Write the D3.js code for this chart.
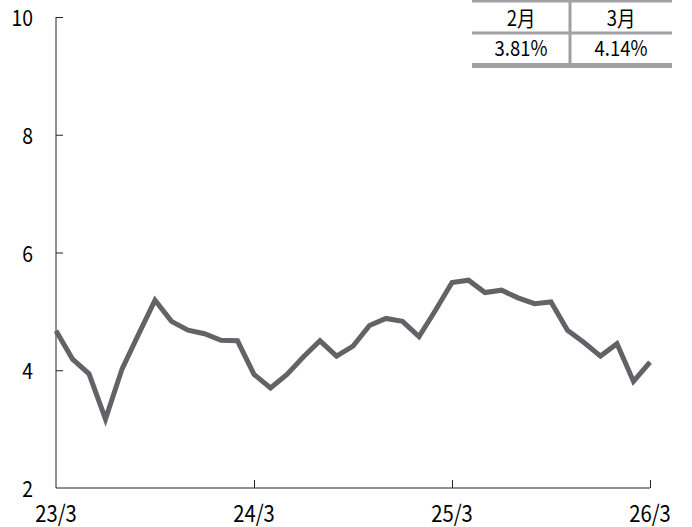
<!DOCTYPE html>
<html>
<head>
	<meta charset="utf-8">
	<title>Rate chart</title>
	<script src="https://d3js.org/d3.v7.min.js"></script>
	<style>
		body { margin: 0; background: #fff; }
		text { font-family: "Noto Sans CJK JP", "Noto Sans", sans-serif; fill: #000; }
	</style>
</head>
<body>
	<script>
		// monthly values, 23/3 .. 26/3
		const values = [4.67, 4.19, 3.94, 3.17, 4.02, 4.61, 5.19, 4.83, 4.68, 4.62, 4.51, 4.50,
			3.93, 3.70, 3.93, 4.23, 4.50, 4.24, 4.41, 4.76, 4.88, 4.83, 4.57, 5.02,
			5.49, 5.53, 5.32, 5.36, 5.23, 5.13, 5.16, 4.68, 4.47, 4.24, 4.45, 3.81, 4.14];
		const xTickLabels = ['23/3', '24/3', '25/3', '26/3'];
		const yTicks = [2, 4, 6, 8, 10];
		const tableHead = ['2月', '3月'];
		const tableVals = ['3.81%', '4.14%'];

		const W = 692, H = 527;
		const margin = { top: 17, right: 42, bottom: 39, left: 56 };
		const width = W - margin.left - margin.right;
		const height = H - margin.top - margin.bottom;
		const sx = 0.88; // narrow the glyphs a bit

		const svg = d3.select('body').append('svg')
			.attr('width', W)
			.attr('height', H);

		const g = svg.append('g')
			.attr('transform', `translate(${margin.left}, ${margin.top})`);

		const x = d3.scaleLinear().domain([0, values.length - 1]).range([0, width]);
		const y = d3.scaleLinear().domain([2, 10]).range([height, 0]);

		// y axis (ticks inward)
		const yAxis = g.append('g')
			.call(d3.axisRight(y).tickValues(yTicks).tickSize(7).tickFormat(''));
		yAxis.select('.domain').attr('d', `M0,0V${height}`).attr('stroke', '#222');
		yAxis.selectAll('.tick line').attr('stroke', '#222');
		yAxis.selectAll('.tick').filter(d => d === 2).select('line').remove();

		g.selectAll('.ylab')
			.data(yTicks)
			.enter().append('text')
			.attr('transform', d => `translate(-23, ${y(d) + 9}) scale(${sx}, 1)`)
			.attr('text-anchor', 'end')
			.style('font-size', '22px')
			.text(d => d);

		// x axis (ticks upward)
		const xAxis = g.append('g')
			.attr('transform', `translate(0, ${height})`)
			.call(d3.axisTop(x).tickValues([0, 12, 24, 36]).tickSize(8).tickFormat(''));
		xAxis.select('.domain').attr('d', `M0,0H${width}`).attr('stroke', '#222');
		xAxis.selectAll('.tick line').attr('stroke', '#222');
		xAxis.selectAll('.tick').filter(d => d === 0).select('line').remove();

		g.selectAll('.xlab')
			.data(xTickLabels)
			.enter().append('text')
			.attr('transform', (d, i) => `translate(${x(i * 12)}, ${height + 34}) scale(${sx}, 1)`)
			.attr('text-anchor', 'middle')
			.style('font-size', '23px')
			.text(d => d);

		// line
		g.append('path')
			.datum(values)
			.attr('fill', 'none')
			.attr('stroke', '#636367')
			.attr('stroke-width', 5)
			.attr('stroke-linejoin', 'miter')
			.attr('d', d3.line().x((d, i) => x(i)).y(d => y(d)));

		// table top right
		const tx = 472, tw = 200, colW = 98;
		const t = svg.append('g');
		t.append('line').attr('x1', tx).attr('x2', tx + tw).attr('y1', 1).attr('y2', 1)
			.attr('stroke', '#a0a0a4').attr('stroke-width', 3);
		t.append('line').attr('x1', tx).attr('x2', tx + tw).attr('y1', 33).attr('y2', 33)
			.attr('stroke', '#a0a0a4').attr('stroke-width', 3);
		t.append('line').attr('x1', tx).attr('x2', tx + tw).attr('y1', 65.5).attr('y2', 65.5)
			.attr('stroke', '#a0a0a4').attr('stroke-width', 5);
		t.append('line').attr('x1', tx + colW).attr('x2', tx + colW).attr('y1', 0).attr('y2', 63)
			.attr('stroke', '#a0a0a4').attr('stroke-width', 3);
		const colX = [tx + colW / 2, tx + colW + (tw - colW) / 2];
		t.selectAll('.th').data(tableHead).enter().append('text')
			.attr('transform', (d, i) => `translate(${colX[i]}, 26) scale(${sx}, 1)`)
			.attr('text-anchor', 'middle')
			.style('font-size', '21px')
			.text(d => d);
		t.selectAll('.tv').data(tableVals).enter().append('text')
			.attr('transform', (d, i) => `translate(${colX[i]}, 56) scale(${sx}, 1)`)
			.attr('text-anchor', 'middle')
			.style('font-size', '21px')
			.text(d => d);
	</script>
</body>
</html>
